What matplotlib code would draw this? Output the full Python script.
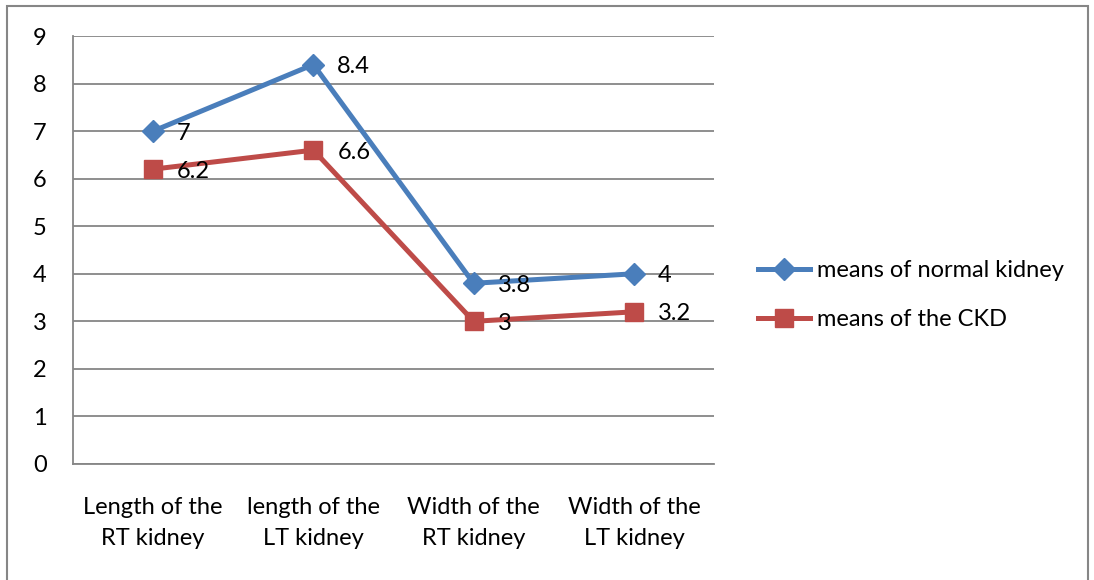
import matplotlib.pyplot as plt
import matplotlib.patches as mpatches

categories = ['Length of the\nRT kidney', 'length of the\nLT kidney',
              'Width of the\nRT kidney', 'Width of the\nLT kidney']
normal = [7, 8.4, 3.8, 4]
ckd = [6.2, 6.6, 3, 3.2]
normal_labels = ['7', '8.4', '3.8', '4']
ckd_labels = ['6.2', '6.6', '3', '3.2']

plt.rcParams['font.family'] = ['Lato', 'DejaVu Sans']
FS = 17

fig = plt.figure(figsize=(10.94, 5.80), dpi=100)
ax = fig.add_axes([73/1094, 1 - 464/580, (714 - 73)/1094, (464 - 36)/580])

# outer chart border
fig.patches.append(mpatches.Rectangle((7/1094, -0.05), (1088 - 7)/1094, 1 - 6/580 + 0.05,
                                      transform=fig.transFigure, fill=False,
                                      edgecolor='#868686', lw=1.5))

BLUE = '#4A7EBB'
RED = '#BE4B48'
x = range(len(categories))

ax.plot(x, normal, color=BLUE, lw=3.6, marker='D', markersize=11, zorder=4,
        label='means of normal kidney')
ax.plot(x, ckd, color=RED, lw=3.6, marker='s', markersize=13, zorder=4,
        label='means of the CKD')

for xi, v, t in zip(x, normal, normal_labels):
    ax.annotate(t, (xi, v), xytext=(24, -2), textcoords='offset pixels',
                ha='left', va='center', fontsize=FS, color='black', zorder=5)
for xi, v, t in zip(x, ckd, ckd_labels):
    ax.annotate(t, (xi, v), xytext=(24, -2), textcoords='offset pixels',
                ha='left', va='center', fontsize=FS, color='black', zorder=5)

ax.set_xlim(-0.5, 3.5)
ax.set_ylim(0, 9)
ax.set_yticks(range(0, 10))
ax.set_xticks(list(x))
ax.set_xticklabels(categories, fontsize=FS, linespacing=1.55)
ax.tick_params(axis='y', labelsize=FS, length=0, pad=19)
ax.tick_params(axis='x', length=0, pad=24)
ax.grid(axis='y', color='#868686', lw=1.3)
ax.set_axisbelow(True)
for sp in ['top', 'right']:
    ax.spines[sp].set_visible(False)
ax.spines['left'].set_color('#868686')
ax.spines['bottom'].set_color('#868686')
ax.spines['left'].set_linewidth(1.3)
ax.spines['bottom'].set_linewidth(1.3)

fig.legend(loc='center left', bbox_to_anchor=(746/1094, 1 - 295/580), frameon=False,
           fontsize=FS, handlelength=2.2, handletextpad=0.3, labelspacing=1.2,
           borderpad=0)

fig.savefig('out.png', dpi=100, facecolor='white')
